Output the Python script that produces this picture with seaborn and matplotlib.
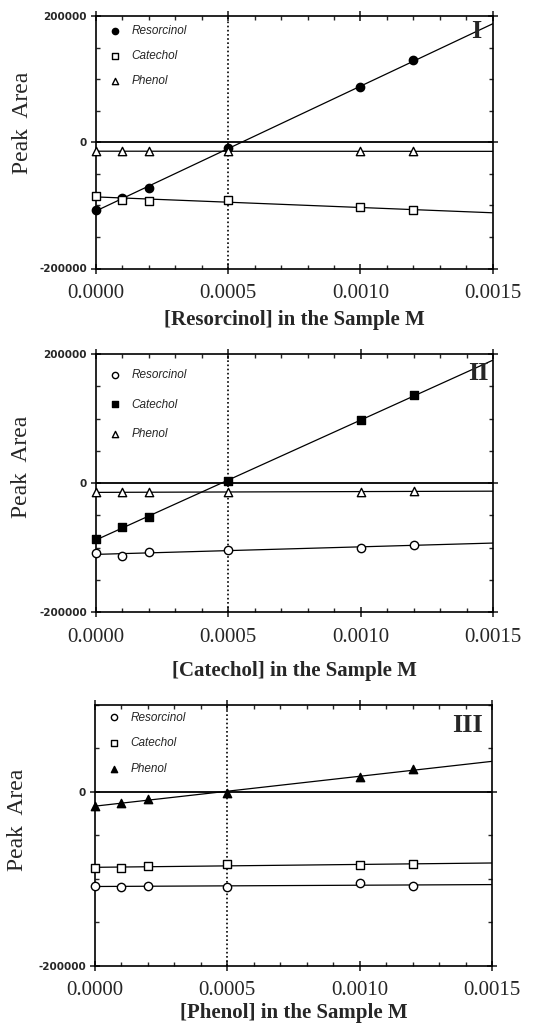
import numpy as np
import matplotlib
matplotlib.use("Agg")
import matplotlib.pyplot as plt
from matplotlib.ticker import MultipleLocator
import seaborn as sns

sns.set_style("ticks")
plt.rcParams["font.family"] = ["Liberation Serif", "DejaVu Serif"]

# ---------------- data ----------------
conc = [0.0, 0.0001, 0.0002, 0.0005, 0.0010, 0.0012]

# Panel I : Resorcinol added
res_I = [-107600, -88000, -72000, -9400, 87000, 130000]
cat_I = [-84500, -90800, -92400, -91300, -102800, -108100]
phe_I = [-14500, -14000, -14500, -13500, -14500, -14500]

# Panel II : Catechol added
res_II = [-109000, -112600, -107400, -103800, -100100, -96000]
cat_II = [-86700, -68000, -53400, 2600, 97500, 135900]
phe_II = [-14500, -14500, -14500, -13500, -13500, -13000]

# Panel III : Phenol added
res_III = [-108200, -109700, -108500, -109300, -105500, -108500]
cat_III = [-87700, -87700, -85800, -82700, -84200, -83500]
phe_III = [-16700, -12500, -8300, -1500, 17500, 25800]

series_names = ["Resorcinol", "Catechol", "Phenol"]
xlabels = ["[Resorcinol] in the Sample M", "[Catechol] in the Sample M", "[Phenol] in the Sample M"]
roman = ["I", "II", "III"]
xticks = [0.0, 0.0005, 0.0010, 0.0015]
xtick_labels = ["0.0000", "0.0005", "0.0010", "0.0015"]

W, H = 557, 1025
fig = plt.figure(figsize=(W / 100, H / 100), dpi=100)


def ax_rect(left, right, top, bottom):
    return [left / W, 1 - bottom / H, (right - left) / W, (bottom - top) / H]


panels = [
    dict(rect=ax_rect(96, 492.7, 16, 268.5), data=[res_I, cat_I, phe_I],
         filled=[True, False, False], ylim=(-200000, 200000),
         yticks=[-200000, 0, 200000], ytl=["-200000", "0", "200000"],
         leg_xy=(0.033, 0.965), leg_sp=1.1, lp=4.5,
         ylab=(23, 123), rom=(481, 32)),
    dict(rect=ax_rect(96, 493, 354, 612), data=[res_II, cat_II, phe_II],
         filled=[False, True, False], ylim=(-200000, 200000),
         yticks=[-200000, 0, 200000], ytl=["-200000", "0", "200000"],
         leg_xy=(0.033, 0.94), leg_sp=1.45, lp=10,
         ylab=(22, 467), rom=(489, 373)),
    dict(rect=ax_rect(95, 492, 705, 965.5), data=[res_III, cat_III, phe_III],
         filled=[False, False, True], ylim=(-200000, 100000),
         yticks=[-200000, 0], ytl=["-200000", "0"],
         leg_xy=(0.033, 0.975), leg_sp=1.15, lp=2,
         ylab=(18, 820), rom=(483, 726)),
]

markers = ["o", "s", "^"]
msizes = [36, 34, 36]

for i, p in enumerate(panels):
    ax = fig.add_axes(p["rect"])
    ax.set_xlim(0, 0.0015)
    ax.set_ylim(*p["ylim"])

    # reference lines
    ax.axhline(0, color="black", lw=1.3, zorder=1)
    ax.axvline(0.0005, color="black", lw=1.2, ls=(0, (1, 1.5)), zorder=1)

    for j, name in enumerate(series_names):
        yv = p["data"][j]
        sns.regplot(x=np.array(conc), y=np.array(yv), ax=ax, scatter=False,
                    ci=None, truncate=False,
                    line_kws=dict(color="black", lw=0.9, zorder=2))
        ax.set_xlim(0, 0.0015)
        face = "black" if p["filled"][j] else "white"
        sns.scatterplot(x=conc, y=yv, ax=ax, marker=markers[j], s=msizes[j],
                        color=face, edgecolor="black", linewidth=1.0,
                        zorder=3, label=name, legend=False, clip_on=False)

    ax.set_xlim(0, 0.0015)
    ax.set_ylim(*p["ylim"])

    for sp in ax.spines.values():
        sp.set_visible(True)
        sp.set_linewidth(1.2)
        sp.set_color("black")

    ax.set_xticks(xticks)
    ax.set_xticklabels(xtick_labels)
    ax.xaxis.set_minor_locator(MultipleLocator(0.0001))
    ax.set_yticks(p["yticks"])
    ax.set_yticklabels(p["ytl"])
    ax.yaxis.set_minor_locator(MultipleLocator(50000))
    ax.tick_params(axis="x", which="major", direction="inout", length=7,
                   width=1.2, pad=8, labelsize=15, top=True)
    ax.tick_params(axis="x", which="minor", direction="in", length=3,
                   width=1.0, top=True)
    ax.tick_params(axis="y", which="major", direction="inout", length=7,
                   width=1.2, pad=3, right=True)
    ax.tick_params(axis="y", which="minor", direction="in", length=3,
                   width=1.0, right=True)
    for t in ax.get_yticklabels():
        t.set_fontfamily("DejaVu Sans")
        t.set_fontweight("bold")
        t.set_fontsize(7.5)

    ax.set_xlabel(xlabels[i], fontsize=15, fontweight="bold", labelpad=p["lp"])
    ax.set_ylabel("")

    leg = ax.legend(loc="upper left", bbox_to_anchor=p["leg_xy"], frameon=False,
                    borderaxespad=0, borderpad=0, handlelength=1.0,
                    handletextpad=0.9, labelspacing=p["leg_sp"], markerscale=0.75,
                    prop=dict(family="Liberation Sans", style="italic", size=8.5))

    fig.text(p["ylab"][0] / W, 1 - p["ylab"][1] / H, "Peak  Area", rotation=90,
             ha="center", va="center", fontsize=17)
    fig.text(p["rom"][0] / W, 1 - p["rom"][1] / H, roman[i], ha="right",
             va="center", fontsize=19, fontweight="bold")

fig.savefig("out.png", dpi=100)
